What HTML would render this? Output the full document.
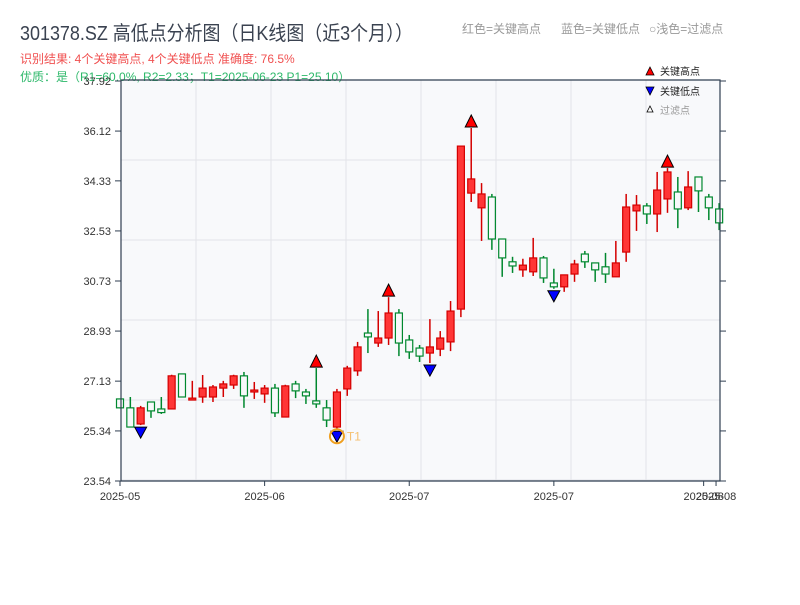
<!DOCTYPE html>
<html><head><meta charset="utf-8"><style>
body{margin:0;background:#fff;width:800px;height:600px;overflow:hidden;font-family:"Liberation Sans","Noto Sans CJK SC",sans-serif}
</style></head><body>
<svg id="c" width="800" height="600" xmlns="http://www.w3.org/2000/svg" style="font-family:'Liberation Sans','Noto Sans CJK SC',sans-serif">
<text x="20" y="40" font-size="20" fill="#3a4250" textLength="393" lengthAdjust="spacingAndGlyphs">301378.SZ 高低点分析图（日K线图（近3个月））</text>
<text x="462" y="33" font-size="12" fill="#999">红色=关键高点</text>
<text x="561" y="33" font-size="12" fill="#999">蓝色=关键低点</text>
<text x="649" y="33" font-size="12" fill="#999">○浅色=过滤点</text>
<text x="20" y="63" font-size="12" fill="#f05050">识别结果: 4个关键高点, 4个关键低点  准确度: 76.5%</text>
<rect x="121" y="80" width="599" height="401" fill="#f8f9fb"/>
<g id="grid"></g>
<g id="candles"></g>
<g id="marks"></g>
<text x="20" y="81" font-size="12" fill="#2db86a">优质：是（R1=60.0%, R2=2.33；T1=2025-06-23 P1=25.10）</text>
<g id="axes"></g>
<g font-size="10">
<polygon points="650,67 654,75 646,75" fill="#f00" stroke="#000" stroke-width="0.8"/>
<text x="660" y="75" fill="#222">关键高点</text>
<polygon points="646,87 654,87 650,95" fill="#00f" stroke="#000" stroke-width="0.8"/>
<text x="660" y="95" fill="#222">关键低点</text>
<polygon points="650,106 653,112 647,112" fill="#fff" stroke="#000" stroke-width="0.8"/>
<text x="660" y="114" fill="#999">过滤点</text>
</g>
</svg>
<script>
const opens=[26.49,26.17,25.59,26.38,26.13,26.13,27.39,26.45,26.56,26.56,26.88,26.99,27.32,26.74,26.67,26.88,25.84,27.03,26.74,26.42,26.17,25.48,26.85,27.5,28.86,28.5,28.68,29.58,28.61,28.32,28.14,28.28,28.54,29.72,33.89,33.36,33.75,32.24,31.42,31.13,31.06,31.56,30.66,30.52,30.98,31.7,31.38,31.24,30.88,31.77,33.25,33.43,33.14,33.68,33.93,33.36,34.47,33.75,33.32];
const closes=[26.17,25.48,26.17,26.06,26.0,27.32,26.56,26.52,26.88,26.92,27.03,27.32,26.6,26.81,26.88,25.99,26.96,26.78,26.6,26.31,25.73,26.74,27.6,28.36,28.72,28.68,29.58,28.5,28.18,28.03,28.36,28.68,29.65,35.58,34.4,33.86,32.24,31.56,31.27,31.3,31.56,30.84,30.52,30.95,31.34,31.42,31.13,30.98,31.38,33.39,33.46,33.14,34.0,34.65,33.32,34.11,33.97,33.36,32.82];
const highs=[26.5,26.56,26.24,26.38,26.56,27.36,27.39,27.14,27.35,26.99,27.14,27.36,27.46,27.1,26.99,27.03,27.0,27.14,26.85,27.6,26.45,26.85,27.68,28.54,29.72,29.65,30.15,29.72,28.79,28.43,29.36,28.93,30.01,35.58,36.23,34.25,33.86,32.24,31.6,31.53,32.28,31.63,31.17,30.95,31.49,31.81,31.38,31.74,32.17,33.86,33.82,33.53,34.65,34.79,34.47,34.68,34.47,33.86,33.53];
const lows=[26.15,25.48,25.55,25.81,25.95,26.13,26.56,26.45,26.35,26.38,26.56,26.85,26.17,26.49,26.35,25.84,25.84,26.52,26.31,26.17,25.48,25.4,26.6,27.32,28.14,28.36,28.43,28.03,27.93,27.82,27.78,28.03,28.21,29.43,33.57,32.17,31.85,30.88,31.02,30.88,30.91,30.66,30.45,30.34,30.7,31.2,30.7,30.66,30.88,31.42,32.53,32.78,32.49,33.18,32.63,33.28,33.21,32.92,32.56];
const keyHighs=[19,26,34,53];
const keyLows=[2,21,30,42];
const yTicks=[23.54,25.34,27.13,28.93,30.73,32.53,34.33,36.12,37.92];
const xLabels=["2025-05","2025-06","2025-07","2025-07","2025-08","2025-08"];
const xLabelIdx=[0,14,28,42,56.5,57.7];
const NS="http://www.w3.org/2000/svg";
const X=i=>120+i*10.33, Y=p=>81+(37.92-p)*400/14.38;
function mk(tag,at,parent){const e=document.createElementNS(NS,tag);for(const k in at)e.setAttribute(k,at[k]);document.getElementById(parent).appendChild(e);return e;}
for(let k=1;k<8;k++){const l=mk('line',{x1:121+k*75,x2:121+k*75,y1:80,y2:481,stroke:'#e2e4e8','stroke-width':1},'grid');

}
for(let k=1;k<6;k++){const l=mk('line',{x1:121,x2:720,y1:80+k*80,y2:80+k*80,stroke:'#e2e4e8','stroke-width':1},'grid');

}
opens.forEach((o,i)=>{const c=closes[i],up=c>=o,x=X(i);
const col=up?'#d40000':'#00882e';
const w=mk('line',{x1:x,x2:x,y1:Y(highs[i]),y2:Y(lows[i]),stroke:col,'stroke-width':1.5},'candles');


const t=Y(Math.max(o,c)),b=Y(Math.min(o,c));
const r=mk('rect',{x:x-3.5,y:t,width:7,height:Math.max(b-t,1.5),fill:up?'#ff3636':'#f8f9fb',stroke:col,'stroke-width':1.2},'candles');

});
keyHighs.forEach(i=>{const x=X(i),y=Y(highs[i])-1;
const p=mk('polygon',{points:`${x},${y-12} ${x+6},${y} ${x-6},${y}`,fill:'#f00',stroke:'#000','stroke-width':1},'marks');

});
keyLows.forEach(i=>{const x=X(i),y=Y(lows[i])+2;
const p=mk('polygon',{points:`${x-6},${y} ${x+6},${y} ${x},${y+11}`,fill:'#00f',stroke:'#000','stroke-width':1},'marks');

});
{const i=keyLows[1],x=X(i),y=Y(lows[i])+7;
const c=mk('circle',{cx:x,cy:y,r:7,fill:'none',stroke:'#f0a020','stroke-width':2},'marks');


const t=mk('text',{x:x+10,y:y+4,'font-size':12,fill:'#f5c070'},'marks');t.textContent='T1';

}
const ax=mk('path',{d:'M121,80 V481 H720 V80 H121',fill:'none',stroke:'#2f3e50','stroke-width':1.2},'axes');


yTicks.forEach(v=>{const y=Y(v);
const l=mk('line',{x1:115,x2:121,y1:y,y2:y,stroke:'#2f3e50'},'axes');


const r=mk('line',{x1:720,x2:726,y1:y,y2:y,stroke:'#2f3e50'},'axes');


const t=mk('text',{x:111,y:y+4,'font-size':11,fill:'#333','text-anchor':'end'},'axes');t.textContent=v.toFixed(2);

});
xLabels.forEach((s,k)=>{const x=X(xLabelIdx[k]);
const l=mk('line',{x1:x,x2:x,y1:481,y2:486,stroke:'#2f3e50'},'axes');


const t=mk('text',{x:x,y:500,'font-size':11,fill:'#333','text-anchor':'middle'},'axes');t.textContent=s;

});
</script>
</body></html>
